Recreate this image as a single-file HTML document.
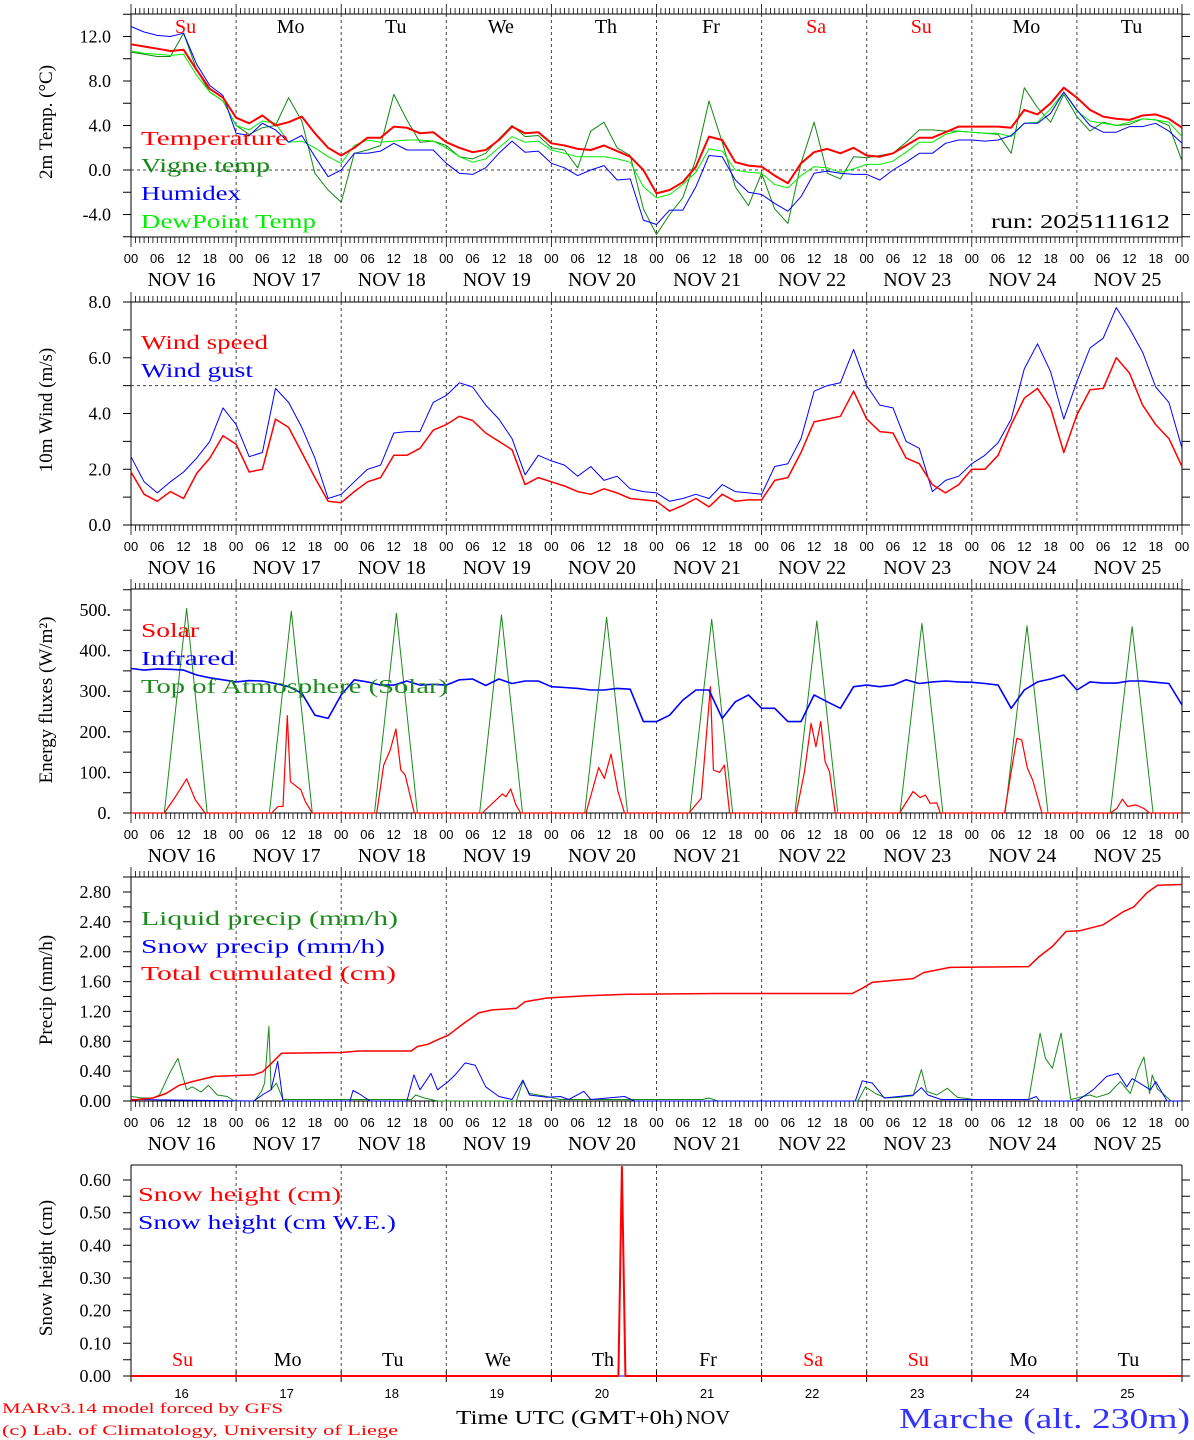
<!DOCTYPE html>
<html><head><meta charset="utf-8"><title>MAR forecast - Marche</title>
<style>
html,body{margin:0;padding:0;background:#fff;}
svg{display:block;}
</style></head>
<body>
<svg id="chart" xmlns="http://www.w3.org/2000/svg" width="1194" height="1440" viewBox="0 0 1194 1440">
<rect x="0" y="0" width="1194" height="1440" fill="#fff"/>
</svg>
<script>
// ---------- data (3-hourly, hours 0..240 from NOV 16 00 UTC) ----------
const dayNames = ["Su","Mo","Tu","We","Th","Fr","Sa","Su","Mo","Tu"];
const dayColors = ["#ff0000","#000","#000","#000","#000","#000","#ff0000","#ff0000","#000","#000"];
const dayDates = ["16","17","18","19","20","21","22","23","24","25"];
const hourLabels = ["00","06","12","18"];

const tempRed = [11.3,11.1,10.9,10.7,10.8,9.0,7.3,6.5,
 4.7,4.2,4.9,4.0,4.3,4.8,3.3,2.0,
 1.3,2.0,2.9,2.9,3.9,3.8,3.3,3.4,
 2.5,2.0,1.6,1.8,2.7,3.9,3.3,3.4,
 2.4,2.2,1.9,1.8,2.2,1.7,1.2,0.0,
 -2.1,-1.8,-1.1,0.3,3.0,2.7,0.7,0.4,
 0.3,-0.5,-1.2,0.6,1.6,1.9,1.5,2.0,
 1.3,1.2,1.5,2.2,2.9,2.9,3.4,3.9,
 3.9,3.9,3.9,3.8,5.4,5.0,6.0,7.4,
 6.5,5.4,4.8,4.6,4.5,4.9,5.0,4.6,
 3.8];
const tempVigne = [10.6,10.4,10.2,10.2,12.3,9.0,7.0,6.2,
 4.0,3.2,3.8,4.0,6.5,4.4,-0.3,-1.8,
 -2.9,1.5,1.8,2.2,6.8,4.5,2.5,2.6,
 2.2,1.2,1.0,1.5,2.8,4.0,3.0,3.1,
 2.0,1.8,0.2,3.5,4.3,2.0,1.3,-3.5,
 -5.8,-4.0,-2.5,1.0,6.2,2.5,-1.5,-3.2,
 -0.3,-3.5,-4.8,0.6,4.3,-0.3,-0.8,1.2,
 1.1,1.3,1.5,2.5,3.6,3.6,3.5,3.5,
 3.4,3.3,3.2,1.5,7.4,5.6,4.3,6.8,
 4.8,3.5,4.3,4.0,4.1,4.6,4.5,4.0,
 0.8];
const tempHumidex = [12.9,12.4,12.1,12.0,12.3,9.5,7.6,6.7,
 3.3,3.1,4.2,3.6,2.5,3.1,1.2,-0.6,
 0.0,1.5,1.5,1.7,2.4,1.8,1.8,1.8,
 0.6,-0.3,-0.4,0.2,1.5,2.6,1.6,1.7,
 0.6,0.2,-0.5,0.0,0.4,-0.9,-0.8,-4.5,
 -4.9,-3.6,-3.6,-1.5,1.3,1.2,-0.9,-2.0,
 -2.2,-3.0,-3.7,-2.4,-0.3,-0.1,-0.3,-0.4,
 -0.4,-0.9,0.0,0.7,1.5,1.5,2.4,2.7,
 2.7,2.6,2.7,3.1,4.2,4.2,5.1,7.0,
 5.4,4.0,3.4,3.4,3.9,3.9,4.2,3.5,
 2.4];
const tempDew = [10.7,10.5,10.4,10.3,10.4,8.5,7.0,6.2,
 4.0,3.6,4.4,4.2,2.5,2.6,2.0,1.2,
 0.6,2.2,2.7,2.5,2.6,2.7,2.7,2.6,
 2.0,1.2,0.7,1.0,2.0,3.0,2.5,2.6,
 1.8,1.5,1.2,1.2,1.2,1.0,0.7,-1.5,
 -2.5,-2.2,-1.3,-0.2,1.9,1.7,0.0,-0.2,
 -0.3,-1.3,-1.6,-0.5,0.3,0.2,-0.2,0.1,
 0.5,0.5,0.8,1.6,2.5,2.5,3.2,3.5,
 3.4,3.3,3.3,3.0,4.2,4.3,5.5,7.0,
 5.3,4.4,4.2,4.0,4.3,4.6,4.5,4.3,
 3.0];

const windSpeed = [1.9,1.1,0.85,1.2,0.95,1.85,2.4,3.2,
 2.9,1.9,2.0,3.8,3.5,2.6,1.7,0.85,
 0.8,1.2,1.55,1.7,2.5,2.5,2.75,3.4,
 3.6,3.9,3.75,3.3,3.0,2.7,1.45,1.7,
 1.55,1.4,1.2,1.1,1.3,1.15,0.95,0.9,
 0.85,0.5,0.7,0.95,0.65,1.1,0.85,0.9,
 0.9,1.6,1.7,2.6,3.7,3.8,3.9,4.8,
 3.8,3.35,3.3,2.4,2.2,1.45,1.15,1.45,
 2.0,2.0,2.5,3.6,4.55,4.9,4.2,2.6,
 3.95,4.85,4.9,6.0,5.45,4.3,3.6,3.1,
 2.1];
const windGust = [2.45,1.55,1.15,1.55,1.9,2.4,3.0,4.2,
 3.6,2.45,2.6,4.9,4.4,3.5,2.4,0.95,
 1.1,1.55,2.0,2.15,3.3,3.35,3.35,4.4,
 4.65,5.1,4.95,4.3,3.8,3.1,1.8,2.5,
 2.3,2.15,1.75,2.1,1.6,1.75,1.3,1.2,
 1.15,0.85,0.95,1.1,0.95,1.45,1.2,1.15,
 1.1,2.1,2.2,3.1,4.8,5.0,5.1,6.3,
 5.0,4.3,4.2,3.0,2.75,1.2,1.6,1.75,
 2.2,2.5,2.95,3.8,5.6,6.5,5.5,3.8,
 5.15,6.35,6.7,7.8,7.05,6.2,4.95,4.4,
 2.75];

const infrared = [356,352,355,354,352,340,333,328,
 323,326,325,319,311,295,241,233,
 291,328,323,315,315,325,315,317,
 315,328,330,314,330,319,325,325,
 311,309,307,303,303,307,305,225,
 225,241,278,303,303,233,274,291,
 258,258,225,225,291,274,258,311,
 315,311,315,328,319,323,325,323,
 322,319,315,258,303,323,330,340,
 303,323,320,320,325,325,322,319,
 266];

// Top of atmosphere solar: (hour, W/m2) vertices
const toaHours = [0,7.6,12.7,17.4, 31.6,36.6,41.4, 55.6,60.6,65.4, 79.6,84.6,89.4, 103.6,108.6,113.4, 127.6,132.6,137.4, 151.6,156.6,161.4, 175.6,180.6,185.4, 199.6,204.6,209.4, 223.6,228.6,233.4, 240];
const toaValues = [0,0,504,0, 0,497,0, 0,492,0, 0,488,0, 0,482,0, 0,477,0, 0,473,0, 0,467,0, 0,461,0, 0,459,0, 0];

const solarHours = [0,7.6,10.4,12.7,14.7,16.9, 32.1,33.6,34.7,35.7,36.4,38.8,39.8,41.4, 56.1,57.7,59.2,60.5,61.6,62.6,64.7, 80.2,84.8,85.6,86.7,87.9,89, 103.9,106.8,108.1,109.6,111.2,112.7, 127.4,130.2,132.3,133,134.4,135.5,136.7, 151.9,153.8,155.3,156.4,157.5,158.5,159.5,160.8, 175.5,178.6,180.2,181.4,182.5,184,184.8, 199.5,201,202.3,203.4,204.7,205.9,208, 223.6,225.1,226.4,227.6,229.5,231.3,232.6,240];
const solarValues = [0,0,44,84,32,0, 0,16,16,240,77,57,28,0, 0,118,155,207,106,94,0, 0,47,40,59,20,0, 0,112,85,145,53,0, 0,36,311,106,100,118,0, 0,102,221,163,225,126,102,0, 0,53,38,44,24,25,0, 0,102,184,180,110,81,0, 0,11,34,16,20,11,0,0];

const cumHours = [0,5,8,11,14,19,28,30,32,34.4,48,52,64,65.4,67.8,70,72.4,76,79.4,82.5,88,90,95,104,113.5,133.6,164.7,167,169.3,178.6,181,187,205,207.3,210.4,213.5,216.6,222,226.7,229,232,234.4,240];
const cumValues = [0.01,0.04,0.1,0.21,0.26,0.33,0.35,0.39,0.5,0.64,0.65,0.67,0.67,0.73,0.76,0.82,0.88,1.04,1.18,1.22,1.24,1.33,1.38,1.41,1.43,1.44,1.44,1.51,1.59,1.64,1.72,1.79,1.80,1.93,2.07,2.27,2.28,2.36,2.54,2.60,2.79,2.89,2.90];

const liquidHours = [0,2.6,5,6.5,8.8,10.7,12.7,14,16,17.7,19.7,22,23.6,28.2,29.8,30.5,31.5,32,33.2,34.7,50,64,65,67,70,88,89.5,91,95,98,130.5,132,134,166,167.7,170,172.4,175.5,178.6,180.5,181.7,184,186.4,188.7,192.5,205,207.6,208.8,210.4,212.4,214.6,217.4,219,220.5,223.3,225.9,228.2,230,231.3,232.6,233.2,234.4,236,237.5,240];
const liquidValues = [0.06,0.04,0.04,0.08,0.37,0.57,0.15,0.19,0.12,0.21,0.08,0.06,0,0,0.13,0.24,1.0,0.15,0.24,0.02,0.02,0.02,0.08,0.04,0,0,0.26,0.1,0.06,0.02,0.02,0.04,0,0,0.19,0.1,0.04,0.05,0.07,0.42,0.13,0.08,0.17,0.05,0.02,0.02,0.91,0.57,0.44,0.91,0.02,0.06,0.08,0.05,0.1,0.26,0.1,0.42,0.59,0.1,0.35,0.16,0.08,0,0];

const snowHours = [0,28,30.5,32,33.5,34.7,50,50.7,52,54.6,63,64.6,66,68.5,70,72.4,74,76.3,78.6,81,84,87,89.5,91,95,98,100,103.4,105,112.7,115,165.4,167,169.3,172,178.6,180.5,182,185,205,206.7,207.5,216,219.7,222.8,225.4,227.4,228.6,232.8,234,236.6,240];
const snowValues = [0.02,0,0.1,0.15,0.53,0,0,0.14,0.1,0,0,0.35,0.15,0.37,0.15,0.26,0.35,0.51,0.48,0.19,0.06,0.02,0.28,0.08,0.05,0.06,0.02,0.13,0.02,0.06,0,0,0.27,0.24,0.04,0.08,0.18,0.08,0.02,0.02,0.06,0,0,0.15,0.33,0.37,0.19,0.3,0.15,0.26,0,0];

const snowHeightHours = [0,111.3,112.1,112.9,240];
const snowHeightValues = [0,0,0.64,0,0];
const snowWEHours = [0,240];
const snowWEValues = [0,0];

// ---------- rendering ----------
const svg = document.getElementById('chart');
const NS = 'http://www.w3.org/2000/svg';
const X0 = 131, X1 = 1182, HOURS = 240;
function xh(h){ return X0 + h*(X1-X0)/HOURS; }
const panels = [
 {top:14, bot:237, y0:170, k:11.125},
 {top:302, bot:525, y0:525, k:27.875},
 {top:589, bot:813, y0:813, k:0.406},
 {top:877, bot:1101, y0:1101, k:74.65},
 {top:1165, bot:1376, y0:1376, k:326.7}
];
function yv(p, v){ return panels[p].y0 - v*panels[p].k; }

function mk(tag, attrs, name, inter, parent){
  const el = document.createElementNS(NS, tag);
  for (const a in attrs) el.setAttribute(a, attrs[a]);
  
  
  (parent || svg).appendChild(el);
  return el;
}
function txt(x, y, s, name, o){
  o = o || {};
  const a = {x:x, y:y, fill:o.fill||'#000', 'font-family':o.ff||'"Liberation Serif", serif', 'font-size':o.fs||18};
  if (o.anchor) a['text-anchor'] = o.anchor;
  if (o.tl) { a.textLength = o.tl; a.lengthAdjust = 'spacingAndGlyphs'; }
  if (o.tr) a.transform = o.tr;
  const el = mk('text', a, name, false);
  el.textContent = s;
  return el;
}
function line(x1,y1,x2,y2,name,o){
  o = o || {};
  const a = {x1:x1,y1:y1,x2:x2,y2:y2,stroke:o.stroke||'#000','stroke-width':o.w||1};
  if (o.dash) a['stroke-dasharray'] = o.dash;
  return mk('line', a, name, false);
}
function series(p, vals, color, width, name){
  let d = '';
  for (let i=0;i<vals.length;i++){
    d += (i?'L':'M') + xh(i*3).toFixed(1) + ',' + yv(p, vals[i]).toFixed(1);
  }
  return mk('path', {d:d, fill:'none', stroke:color, 'stroke-width':width, 'stroke-linejoin':'round'}, name, false);
}
function seriesXY(p, hs, vals, color, width, name){
  let d = '';
  for (let i=0;i<vals.length;i++){
    d += (i?'L':'M') + xh(hs[i]).toFixed(1) + ',' + yv(p, vals[i]).toFixed(1);
  }
  return mk('path', {d:d, fill:'none', stroke:color, 'stroke-width':width, 'stroke-linejoin':'round'}, name, false);
}

// frames for panels 0..3
for (let p=0;p<4;p++){
  const P = panels[p];
  for (let d=1; d<10; d++) line(xh(d*24), P.top, xh(d*24), P.bot, 'day-separator', {stroke:'#444', dash:'3,3'});
  mk('rect', {x:X0, y:P.top, width:X1-X0, height:P.bot-P.top, fill:'none', stroke:'#000', 'stroke-width':1}, 'plot-frame', false);
  let dT='', dB='';
  for (let h=0; h<=HOURS; h++){
    const x = xh(h).toFixed(1);
    const L = (h%24===0) ? 10 : 6;
    dT += 'M'+x+','+P.top+'V'+(P.top-L);
    dB += 'M'+x+','+P.bot+'V'+(P.bot+L);
  }
  mk('path', {d:dT, stroke:'#000', 'stroke-width':0.8, fill:'none'}, 'top-hour-ticks', false);
  mk('path', {d:dB, stroke:'#000', 'stroke-width':0.8, fill:'none'}, 'bottom-hour-ticks', false);
  for (let d=0; d<10; d++){
    for (let j=0;j<4;j++) txt(xh(d*24+j*6), P.bot+26, hourLabels[j], 'hour-label', {anchor:'middle', fs:13, ff:'"Liberation Sans", sans-serif'});
    txt(xh(d*24+12)-2, P.bot+49, 'NOV ' + dayDates[d], 'date-label', {anchor:'middle', fs:20});
  }
  txt(xh(240), P.bot+26, '00', 'hour-label', {anchor:'middle', fs:13, ff:'"Liberation Sans", sans-serif'});
}

function yAxis(p, from, to, step, labStep, fmt, tickLen){
  const P = panels[p];
  let d='';
  const n = Math.round((to-from)/step);
  for (let i=0;i<=n;i++){
    const v = from + i*step;
    const y = yv(p, v);
    if (y < P.top-0.5 || y > P.bot+0.5) continue;
    d += 'M'+(X0-tickLen)+','+y.toFixed(1)+'H'+X0;
    d += 'M'+X1+','+y.toFixed(1)+'H'+(X1+tickLen);
    const r = v/labStep;
    if (Math.abs(r-Math.round(r))<1e-6) txt(X0-20, y+6, fmt(v), 'y-tick-label', {anchor:'end', fs:18});
  }
  mk('path', {d:d, stroke:'#000', 'stroke-width':1, fill:'none'}, 'y-ticks', false);
}
yAxis(0, -6, 14, 2, 4, v=>v.toFixed(1), 8);
yAxis(1, 0, 8, 1, 2, v=>v.toFixed(1), 8);
yAxis(2, 0, 550, 50, 100, v=>v.toFixed(0)+'.', 8);
yAxis(3, 0, 3.0, 0.2, 0.4, v=>v.toFixed(2), 8);

function ytitle(cy, s, name){ txt(52, cy, s, name, {anchor:'middle', fs:19, tr:'rotate(-90 52 '+cy+')'}); }
ytitle(122, '2m Temp. (\u00B0C)', 'y-axis-title-temp');
ytitle(410, '10m Wind (m/s)', 'y-axis-title-wind');
ytitle(700, 'Energy fluxes (W/m\u00B2)', 'y-axis-title-energy');
ytitle(990, 'Precip (mm/h)', 'y-axis-title-precip');
ytitle(1268, 'Snow height (cm)', 'y-axis-title-snow');

// panel 1
line(X0, yv(0,0), X1, yv(0,0), 'zero-line', {stroke:'#444', dash:'3,3'});
for (let d=0; d<10; d++) txt(xh(d*24+12)+2, 33, dayNames[d], 'day-name', {anchor:'middle', fs:20, fill:dayColors[d]});
series(0, tempVigne, '#118811', 1, 'series-vigne-temp');
series(0, tempDew, '#00ee00', 1, 'series-dewpoint');
series(0, tempHumidex, '#0000ff', 1, 'series-humidex');
series(0, tempRed, '#ff0000', 2, 'series-temperature');
txt(141, 145, 'Temperature', 'legend-temperature', {fill:'#ff0000', fs:20, tl:147});
txt(141, 172, 'Vigne temp', 'legend-vigne-temp', {fill:'#118811', fs:20, tl:129});
txt(141, 200, 'Humidex', 'legend-humidex', {fill:'#0000ff', fs:20, tl:100});
txt(141, 228, 'DewPoint Temp', 'legend-dewpoint', {fill:'#00ee00', fs:20, tl:175});
txt(991, 228, 'run: 2025111612', 'run-label', {fs:20, tl:179});

// panel 2
line(X0, yv(1,5), X1, yv(1,5), 'reference-line-5ms', {stroke:'#444', dash:'3,3'});
series(1, windGust, '#0000ff', 1, 'series-wind-gust');
series(1, windSpeed, '#ff0000', 1.5, 'series-wind-speed');
txt(141, 349, 'Wind speed', 'legend-wind-speed', {fill:'#ff0000', fs:20, tl:127});
txt(141, 377, 'Wind gust', 'legend-wind-gust', {fill:'#0000ff', fs:20, tl:112});

// panel 3
seriesXY(2, toaHours, toaValues, '#1a8a1a', 1, 'series-toa-solar');
seriesXY(2, solarHours, solarValues, '#ff0000', 1.2, 'series-solar');
series(2, infrared, '#0000ff', 1.6, 'series-infrared');
txt(141, 637, 'Solar', 'legend-solar', {fill:'#ff0000', fs:20, tl:58});
txt(141, 665, 'Infrared', 'legend-infrared', {fill:'#0000ff', fs:20, tl:94});
txt(141, 693, 'Top of Atmosphere (Solar)', 'legend-toa', {fill:'#1a8a1a', fs:20, tl:307});

// panel 4
seriesXY(3, liquidHours, liquidValues, '#1a8a1a', 1, 'series-liquid-precip');
seriesXY(3, snowHours, snowValues, '#0000ff', 1, 'series-snow-precip');
seriesXY(3, cumHours, cumValues, '#ff0000', 1.5, 'series-total-cumulated');
txt(141, 925, 'Liquid precip (mm/h)', 'legend-liquid-precip', {fill:'#1a8a1a', fs:20, tl:257});
txt(141, 953, 'Snow precip (mm/h)', 'legend-snow-precip', {fill:'#0000ff', fs:20, tl:244});
txt(141, 980, 'Total cumulated (cm)', 'legend-total-cumulated', {fill:'#ff0000', fs:20, tl:255});

// panel 5 (snow height)
(function(){
  const P = panels[4];
  for (let d=1; d<10; d++) line(xh(d*24), P.top, xh(d*24), P.bot, 'day-separator', {stroke:'#444', dash:'3,3'});
  line(X0, P.top, X1, P.top, 'top-border', {});
  line(X0, P.top, X0, P.bot, 'left-axis', {});
  line(X1, P.top, X1, P.bot+6, 'right-axis', {});
  let d='';
  for (let i=0;i<=13;i++){
    const y = yv(4, i*0.05);
    if (y < P.top) continue;
    d += 'M'+(X0-8)+','+y.toFixed(1)+'H'+X0+'M'+X1+','+y.toFixed(1)+'H'+(X1+8);
    if (i%2===0) txt(X0-20, y+6, (i*0.05).toFixed(2), 'y-tick-label', {anchor:'end', fs:18});
  }
  for (let k=0;k<=10;k++){ const x = xh(k*24).toFixed(1); d += 'M'+x+','+(P.bot-5)+'V'+(P.bot+6); }
  mk('path', {d:d, stroke:'#000', 'stroke-width':1, fill:'none'}, 'snow-ticks', false);
  line(X0, P.bot, X1, P.bot, 'bottom-axis', {stroke:'#888'});
  for (let k=0; k<10; k++){
    txt(xh(k*24+12)-1, 1366, dayNames[k], 'day-name', {anchor:'middle', fs:20, fill:dayColors[k]});
    txt(xh(k*24+12)-2, 1398, dayDates[k], 'date-number', {anchor:'middle', fs:13, ff:'"Liberation Sans", sans-serif'});
  }
  seriesXY(4, snowWEHours, snowWEValues, '#0000ff', 1, 'series-snow-height-we');
  seriesXY(4, snowHeightHours, snowHeightValues, '#ff0000', 2, 'series-snow-height');
  txt(138, 1201, 'Snow height (cm)', 'legend-snow-height', {fill:'#ff0000', fs:20, tl:203});
  txt(138, 1229, 'Snow height (cm W.E.)', 'legend-snow-height-we', {fill:'#0000ff', fs:20, tl:258});
})();

// footer
txt(456, 1424, 'Time UTC (GMT+0h)', 'x-axis-title', {fs:20, tl:227});
txt(686, 1424, 'NOV', 'x-axis-month', {fs:20, tl:44});
txt(2, 1413, 'MARv3.14 model forced by GFS', 'credit-model', {fill:'#ff0000', fs:15, tl:281});
txt(2, 1435, '(c) Lab. of Climatology, University of Liege', 'credit-lab', {fill:'#ff0000', fs:15, tl:396});
txt(899, 1428, 'Marche (alt. 230m)', 'station-title', {fill:'#3333ff', fs:28, tl:291});
</script>
</body></html>
